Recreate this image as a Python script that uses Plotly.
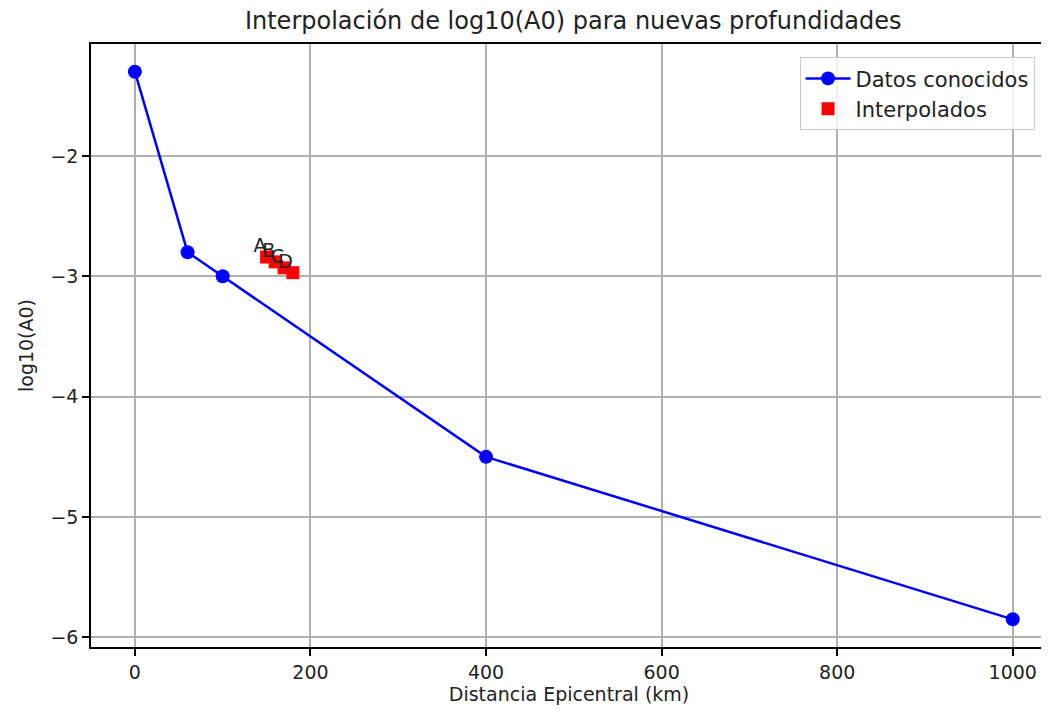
import plotly.graph_objects as go

# Known data points
dist_known = [0, 60, 100, 400, 1000]
log_a0_known = [-1.3, -2.8, -3.0, -4.5, -5.85]

# Interpolated points
dist_interp = [150, 160, 170, 180]
log_a0_interp = [-2.84, -2.88, -2.93, -2.97]
labels_interp = ["A", "B", "C", "D"]

x_ticks = [0, 200, 400, 600, 800, 1000]
y_ticks = [-2, -3, -4, -5, -6]

font = "DejaVu Sans"

fig = go.Figure()

fig.add_trace(go.Scatter(
    x=dist_known, y=log_a0_known, mode="lines+markers",
    name="Datos conocidos",
    line=dict(color="#0000ff", width=2.5),
    marker=dict(color="#0000ff", size=14, symbol="circle"),
))

fig.add_trace(go.Scatter(
    x=dist_interp, y=log_a0_interp, mode="markers",
    name="Interpolados",
    marker=dict(color="#ff0000", size=13, symbol="square"),
))

# Labels next to the interpolated points
fig.add_trace(go.Scatter(
    x=dist_interp, y=log_a0_interp, mode="text",
    text=labels_interp, textposition="top left",
    textfont=dict(family=font, size=19, color="#222222"),
    showlegend=False, hoverinfo="skip",
))

axis_style = dict(
    showgrid=True, gridcolor="#b0b0b0", gridwidth=1.5,
    showline=True, linecolor="black", linewidth=1.5, mirror=True,
    ticks="outside", ticklen=7, tickcolor="black", tickwidth=1.5,
    zeroline=False, automargin=False,
    tickfont=dict(family=font, size=19, color="#222222"),
)

fig.update_xaxes(
    range=[-50, 1039], tickvals=x_ticks,
    title=dict(text="Distancia Epicentral (km)", font=dict(family=font, size=19, color="#222222"), standoff=6),
    **axis_style,
)
fig.update_yaxes(
    range=[-6.08, -1.07], tickvals=y_ticks, ticktext=["\u22122", "\u22123", "\u22124", "\u22125", "\u22126"],
    title=dict(text="log10(A0)", font=dict(family=font, size=19, color="#222222"), standoff=12),
    **axis_style,
)

fig.update_layout(
    width=1041, height=709,
    paper_bgcolor="white", plot_bgcolor="white",
    margin=dict(l=83, r=2, t=36, b=70, autoexpand=False),
    title=dict(text="Interpolación de log10(A0) para nuevas profundidades",
               font=dict(family=font, size=24, color="#222222"),
               x=0.543, xanchor="center", y=0.982, yanchor="middle"),
    legend=dict(
        x=0.987, y=0.978, xanchor="right", yanchor="top",
        bgcolor="rgba(255,255,255,0.8)", bordercolor="#cccccc", borderwidth=1,
        font=dict(family=font, size=21, color="#222222"),
        itemwidth=45,
    ),
    showlegend=True,
)

fig.write_html("out.html")
